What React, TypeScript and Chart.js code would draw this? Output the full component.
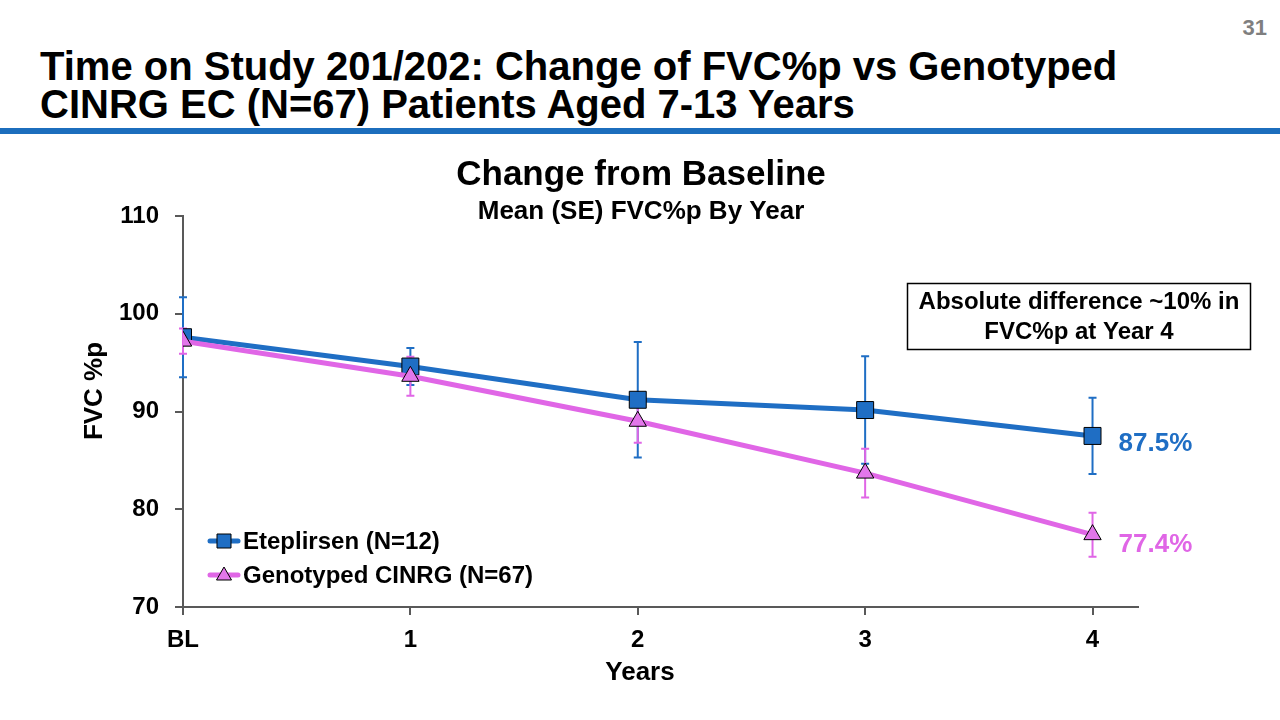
import React, { useEffect, useRef } from "react";
import { Chart, registerables } from "chart.js";

Chart.register(...registerables);

const YEARS = [0, 1, 2, 3, 4];
const YEAR_LABELS = ["BL", "1", "2", "3", "4"];
const ETEP_MEAN = [97.6, 94.6, 91.2, 90.15, 87.5];
const ETEP_SE = [4.1, 1.9, 5.9, 5.5, 3.9];
const CINRG_MEAN = [97.2, 93.6, 89.0, 83.7, 77.4];
const CINRG_SE = [1.3, 2.0, 2.2, 2.5, 2.25];
const Y_TICKS = [70, 80, 90, 100, 110];

const BLUE = "#1F6EC4";
const PINK = "#E066E6";
const PINK_FILL = "#E277EA";
const FONT = "'Liberation Sans', Arial, sans-serif";
const AXIS = "#595959";

const SERIES = [
  { name: "Eteplirsen (N=12)", mean: ETEP_MEAN, se: ETEP_SE, color: BLUE, fill: BLUE, style: "rect" },
  { name: "Genotyped CINRG (N=67)", mean: CINRG_MEAN, se: CINRG_SE, color: PINK, fill: PINK_FILL, style: "triangle" },
];

const overlay = {
  id: "overlay",
  beforeDatasetsDraw(chart: any) {
    const { ctx, scales } = chart;
    const xs = scales.x;
    const ys = scales.y;
    ctx.save();
    SERIES.forEach((s) => {
      ctx.strokeStyle = s.color;
      ctx.lineWidth = 2;
      YEARS.forEach((yr, i) => {
        const x = xs.getPixelForValue(yr);
        const yTop = ys.getPixelForValue(s.mean[i] + s.se[i]);
        const yBot = ys.getPixelForValue(s.mean[i] - s.se[i]);
        ctx.beginPath();
        ctx.moveTo(x, yTop);
        ctx.lineTo(x, yBot);
        ctx.moveTo(x - 4, yTop);
        ctx.lineTo(x + 4, yTop);
        ctx.moveTo(x - 4, yBot);
        ctx.lineTo(x + 4, yBot);
        ctx.stroke();
      });
    });
    ctx.restore();
  },
  afterDraw(chart: any) {
    const { ctx, scales, chartArea } = chart;
    const xs = scales.x;
    const ys = scales.y;
    ctx.save();
    ctx.fillStyle = "#000";
    ctx.textAlign = "center";
    ctx.textBaseline = "middle";
    // chart titles
    ctx.font = `bold 35px ${FONT}`;
    ctx.fillText("Change from Baseline", 641, 175);
    ctx.font = `bold 26px ${FONT}`;
    ctx.fillText("Mean (SE) FVC%p By Year", 641, 212);
    // axis titles
    ctx.fillText("Years", 640, 673);
    ctx.save();
    ctx.translate(95, 391);
    ctx.rotate(-Math.PI / 2);
    ctx.fillText("FVC %p", 0, 0);
    ctx.restore();

    // annotation box
    ctx.strokeStyle = "#000";
    ctx.lineWidth = 1.5;
    ctx.strokeRect(907.5, 283.5, 343, 66);
    ctx.font = `bold 24px ${FONT}`;
    ctx.fillText("Absolute difference ~10% in", 1079, 302);
    ctx.fillText("FVC%p at Year 4", 1079, 332);

    // end labels
    ctx.textAlign = "left";
    ctx.font = `bold 26px ${FONT}`;
    const last = YEARS.length - 1;
    const lx = xs.getPixelForValue(YEARS[last]) + 26;
    ctx.fillStyle = BLUE;
    ctx.fillText(ETEP_MEAN[last].toFixed(1) + "%", lx, ys.getPixelForValue(ETEP_MEAN[last]) + 8);
    ctx.fillStyle = PINK;
    ctx.fillText(CINRG_MEAN[last].toFixed(1) + "%", lx, ys.getPixelForValue(CINRG_MEAN[last]) + 10);

    // legend
    const legX = chartArea.left + 27;
    const legYs = [541, 575];
    SERIES.forEach((s, i) => {
      const y = legYs[i];
      ctx.strokeStyle = s.color;
      ctx.lineWidth = 5;
      ctx.lineCap = "round";
      ctx.beginPath();
      ctx.moveTo(legX, y);
      ctx.lineTo(legX + 28, y);
      ctx.stroke();
      ctx.lineCap = "butt";
      ctx.fillStyle = s.fill;
      ctx.strokeStyle = "#000";
      ctx.lineWidth = 1;
      const cx = legX + 14;
      ctx.beginPath();
      if (s.style === "rect") {
        ctx.rect(cx - 7, y - 7, 14, 14);
      } else {
        ctx.moveTo(cx, y - 8);
        ctx.lineTo(cx + 7.5, y + 5);
        ctx.lineTo(cx - 7.5, y + 5);
        ctx.closePath();
      }
      ctx.fill();
      ctx.stroke();
      ctx.fillStyle = "#000";
      ctx.font = `bold 24px ${FONT}`;
      ctx.textAlign = "left";
      ctx.textBaseline = "middle";
      ctx.fillText(s.name, legX + 33, y + 1);
    });
    ctx.restore();
  },
};

export default function App() {
  const ref = useRef<HTMLCanvasElement | null>(null);

  useEffect(() => {
    if (!ref.current) return;
    const chart = new Chart(ref.current, {
      type: "line",
      data: {
        datasets: SERIES.map((s, idx) => ({
          label: s.name,
          data: YEARS.map((x, i) => ({ x, y: s.mean[i] })),
          borderColor: s.color,
          backgroundColor: s.fill,
          borderWidth: 5,
          pointStyle: s.style as any,
          pointRadius: s.style === "rect" ? 12 : 10,
          pointBorderColor: "#000",
          pointBorderWidth: 1,
          pointBackgroundColor: s.fill,
          tension: 0,
          order: idx === 0 ? 1 : 0,
        })),
      },
      options: {
        responsive: false,
        animation: false,
        devicePixelRatio: 1,
        layout: { padding: { left: 0, top: 216, right: 142, bottom: 23 } },
        plugins: {
          legend: { display: false },
          title: { display: false },
          tooltip: { enabled: false },
        },
        scales: {
          x: {
            type: "linear",
            min: 0,
            max: 4.2,
            afterBuildTicks: (scale: any) => {
              scale.ticks = YEARS.map((v) => ({ value: v }));
            },
            afterFit: (scale: any) => {
              scale.height = 90;
            },
            ticks: {
              callback: (_v: any, i: number) => YEAR_LABELS[i],
              color: "#000",
              font: { family: FONT, size: 24, weight: "bold" },
              padding: 11,
              maxRotation: 0,
              autoSkip: false,
            },
            grid: { drawOnChartArea: false, drawTicks: true, tickLength: 8, color: AXIS, lineWidth: 2 },
            border: { display: true, color: AXIS, width: 2 },
          },
          y: {
            min: 70,
            max: 110,
            afterBuildTicks: (scale: any) => {
              scale.ticks = Y_TICKS.map((v) => ({ value: v }));
            },
            afterFit: (scale: any) => {
              scale.width = 183;
            },
            ticks: {
              color: "#000",
              font: { family: FONT, size: 24, weight: "bold" },
              padding: 16,
            },
            grid: { drawOnChartArea: false, drawTicks: true, tickLength: 8, color: AXIS, lineWidth: 2 },
            border: { display: true, color: AXIS, width: 2 },
          },
        },
      },
      plugins: [overlay],
    });
    return () => chart.destroy();
  }, []);

  return (
    <div style={{ position: "absolute", left: 0, top: 0, width: 1280, height: 720, background: "#fff", fontFamily: FONT }}>
      <div
        style={{
          position: "absolute",
          right: 13,
          top: 17,
          fontSize: 22,
          lineHeight: "22px",
          fontWeight: "bold",
          color: "#7F7F7F",
        }}
      >
        31
      </div>
      <div
        style={{
          position: "absolute",
          left: 40,
          top: 47,
          fontSize: 40,
          lineHeight: "38px",
          fontWeight: "bold",
          color: "#000",
          whiteSpace: "nowrap",
        }}
      >
        <div>Time on Study 201/202: Change of FVC%p vs Genotyped</div>
        <div>CINRG EC (N=67) Patients Aged 7-13 Years</div>
      </div>
      <div style={{ position: "absolute", left: 0, top: 128, width: 1280, height: 6, background: "#1C6EBD" }} />
      <canvas ref={ref} width={1280} height={720} style={{ position: "absolute", left: 0, top: 0 }} />
    </div>
  );
}
